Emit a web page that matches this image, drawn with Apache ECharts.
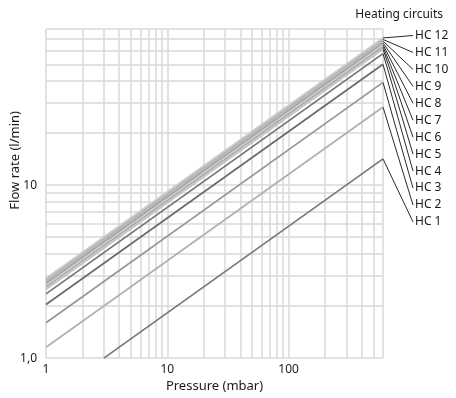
<!DOCTYPE html>
<html>
<head>
<meta charset="utf-8">
<script src="https://cdn.jsdelivr.net/npm/echarts@6/dist/echarts.min.js"></script>
<style>
  html, body { margin: 0; padding: 0; background: #fff; }
  #chart { width: 456px; height: 398px; }
</style>
</head>
<body>
<div id="chart"></div>
<script>
// circuits, bottom (HC 1) to top (HC 12)
const circuits = ['HC 1', 'HC 2', 'HC 3', 'HC 4', 'HC 5', 'HC 6', 'HC 7', 'HC 8', 'HC 9', 'HC 10', 'HC 11', 'HC 12'];
// pressure (mbar) where each line starts / ends
const startPressure = [3, 1, 1, 1, 1, 1, 1, 1, 1, 1, 1, 1];
const endPressure = [600, 600, 600, 600, 600, 600, 600, 600, 600, 600, 600, 600];
// flow rate (l/min) at start / end
const startFlow = [1.0, 1.155, 1.60, 2.04, 2.35, 2.50, 2.58, 2.65, 2.72, 2.78, 2.84, 2.90];
const endFlow = [14.2, 28.3, 39.3, 50.0, 57.6, 61.2, 63.2, 64.9, 66.6, 68.1, 69.6, 71.0];
const lineColors = ['#787878', '#b0b0b0', '#969696', '#6a6a6a', '#747474', '#c0c0c0',
  '#a8a8a8', '#c8c8c8', '#a0a0a0', '#bcbcbc', '#b4b4b4', '#cccccc'];

const xTicks = [1, 10, 100];
const xTickLabels = ['1', '10', '100'];
const yTicks = [1, 10];
const yTickLabels = ['1,0', '10'];
const xGrid = [1, 2, 3, 4, 5, 6, 7, 8, 9, 10, 20, 30, 40, 50, 60, 70, 80, 90, 100, 200, 300, 400, 500, 600];
const yGrid = [1, 2, 3, 4, 5, 6, 7, 8, 9, 10, 20, 30, 40, 50, 60, 70, 80];

const FONT = 'Noto Sans';
const TXT = '#1a1a1a';

var myChart = echarts.init(document.getElementById('chart'));

var series = [{
  // grid lines
  type: 'line',
  data: [],
  silent: true,
  markLine: {
    silent: true,
    symbol: 'none',
    z: 0,
    label: { show: false },
    lineStyle: { color: '#d8d8d8', width: 1.5, type: 'solid' },
    data: xGrid.map(v => ({ xAxis: v })).concat(yGrid.map(v => ({ yAxis: v })))
  }
}];
circuits.forEach((name, i) => {
  series.push({
    name: name,
    type: 'line',
    showSymbol: false,
    symbol: 'none',
    silent: true,
    z: 2,
    lineStyle: { color: lineColors[i], width: 1.7 },
    data: [[startPressure[i], startFlow[i]], [endPressure[i], endFlow[i]]]
  });
});

myChart.setOption({
  animation: false,
  textStyle: { fontFamily: FONT },
  title: {
    text: 'Heating circuits',
    right: 8,
    top: 4,
    textStyle: { fontFamily: FONT, fontSize: 12, fontWeight: 'normal', color: TXT }
  },
  grid: { left: 46, right: 73, top: 29, bottom: 36 },
  xAxis: {
    type: 'log',
    logBase: 10,
    min: 1,
    max: 600,
    name: 'Pressure (mbar)',
    nameLocation: 'middle',
    nameGap: 19,
    nameTextStyle: { fontFamily: FONT, fontSize: 13, color: TXT },
    axisLine: { show: false },
    axisTick: { show: false },
    splitLine: { show: false },
    axisLabel: {
      fontFamily: FONT, fontSize: 12, color: TXT, margin: 5,
      showMaxLabel: false,
      formatter: v => { const k = xTicks.indexOf(Math.round(v)); return k >= 0 ? xTickLabels[k] : ''; }
    }
  },
  yAxis: {
    type: 'log',
    logBase: 10,
    min: 1,
    max: 80,
    axisLine: { show: false },
    axisTick: { show: false },
    splitLine: { show: false },
    axisLabel: {
      fontFamily: FONT, fontSize: 12, color: TXT, margin: 9,
      showMaxLabel: false,
      formatter: v => { const k = yTicks.indexOf(Math.round(v)); return k >= 0 ? yTickLabels[k] : ''; }
    }
  },
  series: series
});

// leader lines and circuit labels
var graphics = [{
  type: 'text',
  left: 9,
  top: 111,
  rotation: Math.PI / 2,
  style: { text: 'Flow rate (l/min)', fontFamily: FONT, fontSize: 13, fill: TXT }
}];
circuits.forEach((name, i) => {
  var p = myChart.convertToPixel({ xAxisIndex: 0, yAxisIndex: 0 }, [endPressure[i], endFlow[i]]);
  var ly = 35.5 + (circuits.length - 1 - i) * 16.95;
  graphics.push({
    type: 'line',
    silent: true,
    shape: { x1: p[0], y1: p[1], x2: 413, y2: ly },
    style: { stroke: '#111', lineWidth: 0.9 }
  });
  graphics.push({
    type: 'text',
    x: 415,
    y: ly,
    style: { text: name, fontFamily: FONT, fontSize: 12, fill: TXT, textVerticalAlign: 'middle', verticalAlign: 'middle' }
  });
});
myChart.setOption({ graphic: graphics });
</script>
</body>
</html>
